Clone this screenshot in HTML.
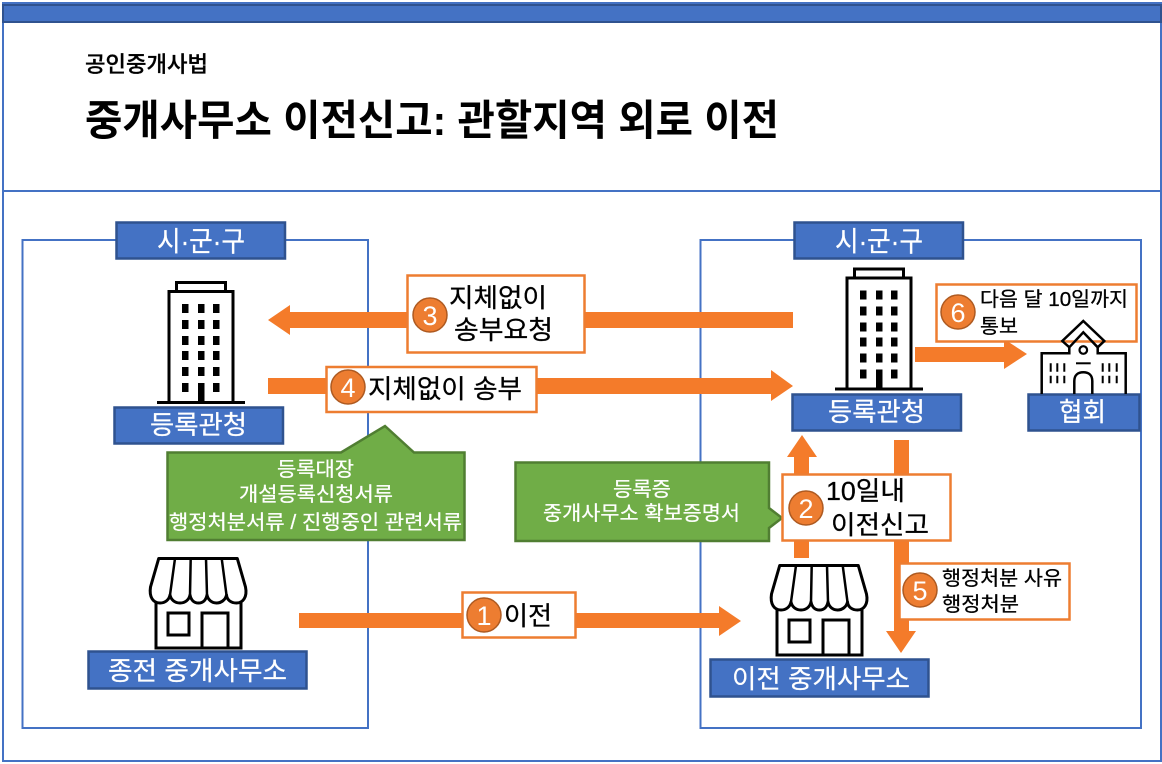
<!DOCTYPE html>
<html lang="ko"><head><meta charset="utf-8"><style>
html,body{margin:0;padding:0;background:#fff}
svg{display:block}
text{font-family:"Liberation Sans","Noto Sans CJK KR",sans-serif}
.k{fill:#000;stroke:#000;stroke-width:.3}.w{fill:#fff;stroke:#fff;stroke-width:.25}
.lb{fill:#4472c4;stroke:#2f528f;stroke-width:2.5}
.ob{fill:#fff;stroke:#ed7d31;stroke-width:2.5}
.ar{fill:#f47b2a}
.gr{fill:#70ad47;stroke:#507e32;stroke-width:2.5}
.ci{fill:#ed7d31;stroke:#ae5a21;stroke-width:1.5}
.num{fill:#fff;font-size:27px;text-anchor:middle}
.ic{fill:#fff;stroke:#000;stroke-width:3}
</style></head><body>
<svg width="1162" height="764" viewBox="0 0 1162 764" xmlns="http://www.w3.org/2000/svg">
<defs>
<g id="bld">
<rect class="ic" x="176.500" y="282.500" width="49" height="9"/>
<rect class="ic" x="169" y="291.500" width="64" height="111"/>
<line x1="157" y1="402.500" x2="245" y2="402.500" stroke="#000" stroke-width="3"/>
<g fill="#000">
<rect x="182" y="304" width="6.500" height="9"/><rect x="198" y="304" width="6.500" height="9"/><rect x="213" y="304" width="6.500" height="9"/>
<rect x="182" y="320" width="6.500" height="9"/><rect x="198" y="320" width="6.500" height="9"/><rect x="213" y="320" width="6.500" height="9"/>
<rect x="182" y="336" width="6.500" height="9"/><rect x="198" y="336" width="6.500" height="9"/><rect x="213" y="336" width="6.500" height="9"/>
<rect x="182" y="351" width="6.500" height="9"/><rect x="198" y="351" width="6.500" height="9"/><rect x="213" y="351" width="6.500" height="9"/>
<rect x="182" y="367" width="6.500" height="9"/><rect x="198" y="367" width="6.500" height="9"/><rect x="213" y="367" width="6.500" height="9"/>
<rect x="182" y="383" width="6.500" height="9"/><rect x="198" y="383" width="6.500" height="19"/><rect x="213" y="383" width="6.500" height="9"/>
</g>
</g>
<g id="shop">
<rect class="ic" x="156" y="595" width="85" height="53"/>
<path class="ic" stroke-linejoin="round" d="M158.700 558.500H237.300L245.500 587C247.500 597 243 603 236.500 603C231 603 227 600 226.500 595C225.500 600 221 603 216.500 603C212 603 208 600 207 595C206 600 203 603 198.500 603C194 603 191 600 190 595C189 600 185 603 180 603C175 603 171 600 170 595C169 600 165 603 160 603C153 603 149 597 150.500 587Z"/>
<path d="M175 558.500L170 595M190.700 558.500L190 595M206 558.500L207 595M221.700 558.500L226.500 595" fill="none" stroke="#000" stroke-width="2.500"/>
<rect class="ic" x="168" y="613" width="21" height="22"/>
<rect class="ic" x="202" y="613" width="26" height="35"/>
</g>
</defs>

<rect width="1162" height="764" fill="#fff"/>
<!-- outer frame -->
<rect x="3" y="3" width="1158" height="758" fill="none" stroke="#4472c4" stroke-width="2"/>
<rect x="3" y="3" width="1158" height="19" fill="#4472c4"/>
<rect x="3" y="5" width="1158" height="17" fill="#4472c4" stroke="#2f528f" stroke-width="2"/>
<rect x="2" y="190" width="1160" height="2" fill="#4472c4"/>

<text class="k" x="85" y="72" font-size="22" font-weight="500" textLength="123" lengthAdjust="spacingAndGlyphs">공인중개사법</text>
<text x="85" y="135" font-size="42" font-weight="700" fill="#000" textLength="694" lengthAdjust="spacingAndGlyphs">중개사무소 이전신고: 관할지역 외로 이전</text>

<!-- panels -->
<rect x="22.500" y="240" width="345.500" height="488" fill="none" stroke="#4472c4" stroke-width="2"/>
<rect x="700.500" y="240" width="440.500" height="488" fill="none" stroke="#4472c4" stroke-width="2"/>

<rect class="lb" x="116.500" y="222.500" width="168.500" height="36"/>
<text class="w" x="157" y="251" font-size="28" textLength="88" lengthAdjust="spacingAndGlyphs">시·군·구</text>
<rect class="lb" x="794.500" y="222.500" width="168.500" height="36"/>
<text class="w" x="835" y="251" font-size="28" textLength="88" lengthAdjust="spacingAndGlyphs">시·군·구</text>

<!-- icons -->
<use href="#bld"/>
<use href="#bld" transform="translate(678,-13.500)"/>
<use href="#shop"/>
<use href="#shop" transform="translate(621,7)"/>

<rect class="lb" x="114.500" y="407.500" width="168.500" height="36"/>
<text class="w" x="150" y="434" font-size="26" textLength="97" lengthAdjust="spacingAndGlyphs">등록관청</text>
<rect class="lb" x="792.500" y="394.500" width="168.500" height="36"/>
<text class="w" x="828" y="421" font-size="26" textLength="97" lengthAdjust="spacingAndGlyphs">등록관청</text>
<rect class="lb" x="1028.500" y="394.500" width="111" height="36"/>
<text class="w" x="1059" y="421" font-size="26" textLength="47" lengthAdjust="spacingAndGlyphs">협회</text>
<rect class="lb" x="88.500" y="651.500" width="218" height="37"/>
<text class="w" x="108" y="680" font-size="26" textLength="179" lengthAdjust="spacingAndGlyphs">종전 중개사무소</text>
<rect class="lb" x="710.500" y="659.500" width="218" height="37"/>
<text class="w" x="732" y="688" font-size="26" textLength="178" lengthAdjust="spacingAndGlyphs">이전 중개사무소</text>

<!-- arrows -->
<path class="ar" d="M793 312H290V305L268 320L290 335V328H793Z"/>
<path class="ar" d="M268 378H771V370L793 386L771 401V394H268Z"/>
<path class="ar" d="M299 613H719V606L741 621L719 636V628H299Z"/>
<path class="ar" d="M794 558V457H787L802 435L817 457H809V558Z"/>
<path class="ar" d="M894 440H909V631H916L901 653L886 631H894Z"/>
<path class="ar" d="M915 347H1004V339L1027 354L1004 369V362H915Z"/>

<!-- green callouts -->
<path class="gr" d="M167.500 452.500H341L385 426L414 452.500H464.500V540H167.500Z"/>
<text class="w" x="277" y="476" font-size="20" textLength="77" lengthAdjust="spacingAndGlyphs">등록대장</text>
<text class="w" x="239" y="501" font-size="20" textLength="154" lengthAdjust="spacingAndGlyphs">개설등록신청서류</text>
<text class="w" x="169" y="529" font-size="20" textLength="293" lengthAdjust="spacingAndGlyphs">행정처분서류 / 진행중인 관련서류</text>
<path class="gr" d="M515.500 462.500H769V508L782 518L769 528V541H515.500Z"/>
<text class="w" x="613" y="496" font-size="20" textLength="58" lengthAdjust="spacingAndGlyphs">등록증</text>
<text class="w" x="543" y="520" font-size="20" textLength="197" lengthAdjust="spacingAndGlyphs">중개사무소 확보증명서</text>

<!-- label boxes -->
<rect class="ob" x="407.500" y="275.500" width="177" height="77"/>
<circle class="ci" cx="430" cy="315" r="17"/><text class="num" x="430" y="325">3</text>
<text class="k" x="449" y="307" font-size="26" textLength="98" lengthAdjust="spacingAndGlyphs">지체없이</text>
<text class="k" x="454" y="339" font-size="26" textLength="99" lengthAdjust="spacingAndGlyphs">송부요청</text>

<rect class="ob" x="326.500" y="367" width="210" height="45"/>
<circle class="ci" cx="348" cy="387" r="17"/><text class="num" x="348" y="397">4</text>
<text class="k" x="368" y="398" font-size="26" textLength="154" lengthAdjust="spacingAndGlyphs">지체없이 송부</text>

<rect class="ob" x="462.500" y="592.500" width="113" height="45"/>
<circle class="ci" cx="484" cy="615" r="17"/><text class="num" x="484" y="625">1</text>
<text class="k" x="504" y="625" font-size="26" textLength="48" lengthAdjust="spacingAndGlyphs">이전</text>

<rect class="ob" x="782.500" y="474.500" width="168" height="66"/>
<circle class="ci" cx="806" cy="508" r="17"/><text class="num" x="806" y="518">2</text>
<text class="k" x="826" y="500" font-size="26" textLength="79" lengthAdjust="spacingAndGlyphs">10일내</text>
<text class="k" x="831" y="534" font-size="26" textLength="98" lengthAdjust="spacingAndGlyphs">이전신고</text>

<rect class="ob" x="899.500" y="563.500" width="170" height="56"/>
<circle class="ci" cx="920" cy="590" r="17"/><text class="num" x="920" y="600">5</text>
<text class="k" x="942" y="585" font-size="20" textLength="120" lengthAdjust="spacingAndGlyphs">행정처분 사유</text>
<text class="k" x="942" y="611" font-size="20" textLength="77" lengthAdjust="spacingAndGlyphs">행정처분</text>

<rect class="ob" x="936.500" y="284.500" width="200" height="57"/>
<circle class="ci" cx="958" cy="312" r="17"/><text class="num" x="958" y="322">6</text>
<text class="k" x="980" y="306" font-size="20" textLength="148" lengthAdjust="spacingAndGlyphs">다음 달 10일까지</text>
<text class="k" x="980" y="333" font-size="20" textLength="38" lengthAdjust="spacingAndGlyphs">통보</text>

<!-- school (transparent, drawn over label box) -->
<g fill="none" stroke="#000" stroke-width="2.500" stroke-linejoin="miter">
<path d="M1083.300 321L1104.300 341L1097.700 347.300L1083.300 332.300L1069.300 347.300L1062.300 341Z"/>
<path d="M1069.300 347.300V353.300H1041.700V394M1097.700 347.300V353.300H1125.700V394"/>
<circle cx="1083.300" cy="350" r="3.800" stroke-width="2.200"/>
<line x1="1076" y1="363.300" x2="1090.700" y2="363.300" stroke-width="2"/>
<path d="M1074.300 394V381C1074.300 375 1078 372.300 1083.300 372.300C1088.600 372.300 1092.300 375 1092.300 381V394"/>
<path stroke-width="2" d="M1050.700 363.300v8.400M1057.300 363.300v8.400M1064.300 363.300v8.400M1050.700 375.700v7.600M1057.300 375.700v7.600M1064.300 375.700v7.600M1102.700 363.300v8.400M1109.300 363.300v8.400M1116.700 363.300v8.400M1102.700 375.700v7.600M1109.300 375.700v7.600M1116.700 375.700v7.600"/>
</g>
</svg>
</body></html>
